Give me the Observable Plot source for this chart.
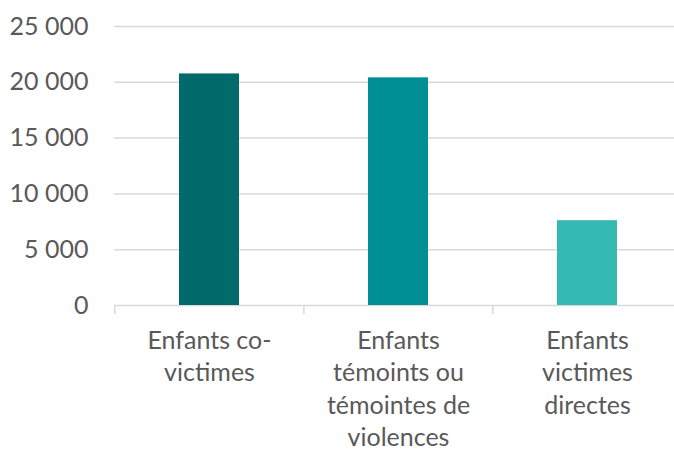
<!DOCTYPE html>
<html>
<head>
<meta charset="utf-8">
<script src="https://cdn.jsdelivr.net/npm/d3@7"></script>
<script src="https://cdn.jsdelivr.net/npm/@observablehq/plot@0.6"></script>
<style>
  html, body { margin: 0; padding: 0; background: #fff; }
  #chart svg { display: block; }
</style>
</head>
<body>
<div id="chart"></div>
<script>
const categories = ["Enfants co-victimes", "Enfants témoints ou témointes de violences", "Enfants victimes directes"];
const tickLabels = ["Enfants co-\nvictimes", "Enfants\ntémoints ou\ntémointes de\nviolences", "Enfants\nvictimes\ndirectes"];
const values = [20750, 20400, 7600];
const colors = ["#016a6b", "#018f96", "#34b9b3"];
const yTicks = [0, 5000, 10000, 15000, 20000, 25000];

const data = categories.map((c, i) => ({category: c, value: values[i], color: colors[i]}));
const labelOf = new Map(categories.map((c, i) => [c, tickLabels[i]]));
const fr = d3.formatLocale({decimal: ",", thousands: "\u00a0", grouping: [3], currency: ["", " €"]});
const fmt = fr.format(",d");

const W = 674, H = 452;
const left = 114, step = 189.2;
const font = "Lato, 'Open Sans', sans-serif";

const chart = Plot.plot({
  width: W,
  height: H,
  marginLeft: left,
  marginRight: 0,
  marginTop: 26,
  marginBottom: 147,
  style: {fontFamily: font, color: "#595959", background: "#fff"},
  x: {domain: categories, range: [left, left + 3 * step], paddingInner: 0.683, paddingOuter: 0.3415, axis: null},
  y: {domain: [0, 25000], axis: null},
  marks: [
    Plot.ruleY(yTicks, {stroke: "#d9d9d9", strokeWidth: 1.5}),
    Plot.barY(data, {x: "category", y: "value", fill: "color"}),
    Plot.ruleX(categories, {x: d => d, y1: 0, y2: 0, insetBottom: -9, dx: -step / 2, stroke: "#d9d9d9", strokeWidth: 1.5}),
    Plot.axisX({
      domain: categories,
      label: null,
      tickSize: 0,
      tickPadding: 20,
      fontSize: 25,
      lineHeight: 1.3,
      fill: "#595959",
      tickFormat: d => labelOf.get(d)
    }),
    Plot.axisY({
      ticks: yTicks,
      label: null,
      tickSize: 0,
      tickPadding: 26,
      fontSize: 25,
      fill: "#595959",
      tickFormat: fmt
    })
  ]
});
document.getElementById("chart").appendChild(chart);
</script>
</body>
</html>
